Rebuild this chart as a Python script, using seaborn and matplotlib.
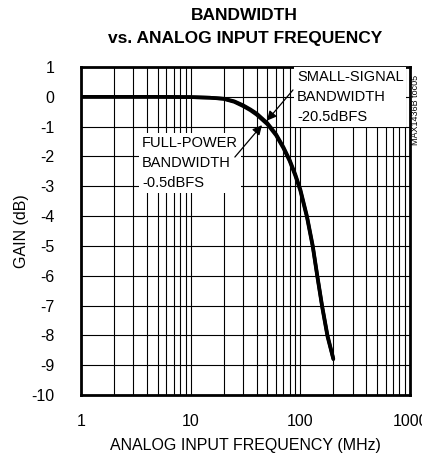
import numpy as np
import pandas as pd
import matplotlib
matplotlib.use("Agg")
import matplotlib.pyplot as plt
import seaborn as sns

# donnees
freq_mhz = [1, 2, 5, 10, 15, 20, 25, 30, 35, 40, 50, 60, 70, 80, 90, 100, 115, 130, 143, 158, 177, 200]
gain_full = [0, 0, 0, -0.01, -0.03, -0.06, -0.15, -0.28, -0.42, -0.56, -0.88, -1.25, -1.68, -2.12, -2.6, -3.1, -4.0, -5.0, -6.0, -7.0, -8.0, -8.78]
gain_small = [0, 0, 0, -0.01, -0.03, -0.07, -0.17, -0.31, -0.45, -0.6, -0.92, -1.29, -1.72, -2.16, -2.65, -3.15, -4.05, -5.05, -6.05, -7.05, -8.05, -8.8]
yticks = list(range(1, -11, -1))
xticks = [1, 10, 100, 1000]

df = pd.DataFrame({
    "freq": freq_mhz * 2,
    "gain": gain_full + gain_small,
    "serie": ["full"] * len(freq_mhz) + ["small"] * len(freq_mhz),
})

sns.set_style("white")
plt.rcParams["font.family"] = ["Liberation Sans", "DejaVu Sans"]
plt.rcParams["text.color"] = "black"
plt.rcParams["axes.labelcolor"] = "black"
plt.rcParams["xtick.color"] = "black"
plt.rcParams["ytick.color"] = "black"

fig = plt.figure(figsize=(4.22, 4.58), dpi=100)
ax = fig.add_axes([81 / 422, 1 - 395 / 458, 329 / 422, 328 / 458])

sns.lineplot(data=df, x="freq", y="gain", units="serie", estimator=None,
             color="black", lw=2.6, ax=ax, legend=False)

ax.set_xscale("log")
ax.set_xlim(1, 1000)
ax.set_ylim(-10, 1)
ax.set_xticks(xticks)
ax.set_xticklabels([str(t) for t in xticks], fontsize=11.5)
ax.set_yticks(yticks)
ax.set_yticklabels([str(t) for t in yticks], fontsize=11.5)
ax.tick_params(axis="both", which="both", length=0)
ax.tick_params(axis="y", pad=19)
ax.tick_params(axis="x", pad=14)
ax.grid(True, which="major", color="black", lw=0.8)
ax.grid(True, which="minor", axis="x", color="black", lw=0.8)
ax.set_axisbelow(True)
for s in ax.spines.values():
    s.set_linewidth(2)
    s.set_color("black")

ax.set_xlabel("ANALOG INPUT FREQUENCY (MHz)", fontsize=11.5)
ax.set_ylabel("GAIN (dB)", fontsize=11.5)
ax.xaxis.set_label_coords(0.5, -0.13)
ax.yaxis.set_label_coords(-0.158, 0.5)

fig.text(0.58, 1 - 15 / 458, "BANDWIDTH", ha="center", va="center",
         fontsize=12.5, fontweight="bold")
fig.text(0.58, 1 - 38 / 458, "vs. ANALOG INPUT FREQUENCY", ha="center", va="center",
         fontsize=12.5, fontweight="bold")

box = dict(boxstyle="square,pad=0.2", fc="white", ec="none")
ax.text(93, 0.9, "SMALL-SIGNAL\nBANDWIDTH\n-20.5dBFS", ha="left", va="top",
        fontsize=10.5, linespacing=1.55, bbox=box)
ax.text(3.6, -1.3, "FULL-POWER\nBANDWIDTH\n-0.5dBFS", ha="left", va="top",
        fontsize=10.5, linespacing=1.55, bbox=box)

arrow = dict(arrowstyle="-|>", color="black", lw=0.9, mutation_scale=14,
             shrinkA=0, shrinkB=0)
ax.annotate("", xy=(49.6, -0.8), xytext=(85.7, 0.23), arrowprops=arrow)
ax.annotate("", xy=(44.7, -0.95), xytext=(25.3, -2.02), arrowprops=arrow)

fig.text(416 / 422, 1 - 110 / 458, "MAX1436B toc05", rotation=90, ha="center",
         va="center", fontsize=6.5)

fig.savefig("out.png", dpi=100)
